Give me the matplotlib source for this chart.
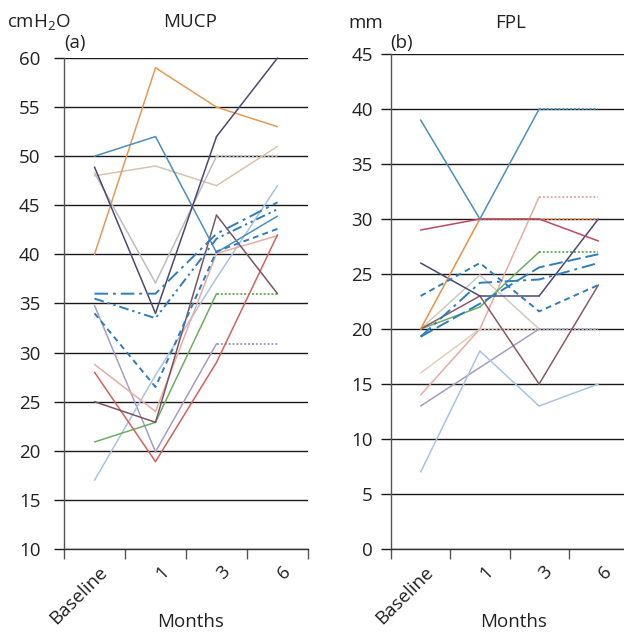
import matplotlib
matplotlib.use('Agg')
import matplotlib.pyplot as plt
import matplotlib.transforms as mtransforms

plt.rcParams['font.family'] = ['Open Sans', 'DejaVu Sans']
plt.rcParams['mathtext.default'] = 'regular'

timepoints = ['Baseline', '1', '3', '6']

# ---- Panel (a) MUCP (cmH2O) ----
mucp_orange = [40, 59, 55, 53]
mucp_steel = [50, 52, 40.2, 43.9]
mucp_navy = [48.9, 34, 52, 60]
mucp_beige = [48, 49, 47, 51]
mucp_grey = [48.3, 37.1, 50, 50]
mucp_mauve = [25, 22.9, 44, 36]
mucp_green = [20.9, 22.9, 36, 36]
mucp_red = [28, 18.9, 29, 42]
mucp_lightblue = [17, 27.7, 37.6, 47]
mucp_pink = [28.8, 24, 40.1, 41.9]
mucp_lavender = [34.8, 19.9, 30.9, 30.9]
mucp_blue_dashdot = [36, 36, 42.1, 45.3]
mucp_blue_dashdotdot = [35.5, 33.5, 41.6, 44.6]
mucp_blue_dashed = [34, 26.5, 40.3, 42.6]

# ---- Panel (b) FPL (mm) ----
fpl_steel = [39, 30, 40, 40]
fpl_maroon = [29, 30, 30, 28]
fpl_orange = [20, 30, 30, 30]
fpl_pink = [14, 20, 32, 32]
fpl_navy = [26, 23, 23, 30]
fpl_mauve = [20, 23, 15, 24]
fpl_green = [20, 22, 27, 27]
fpl_grey = [20, 24.9, 20, 20]
fpl_beige = [16, 20, 20, 20]
fpl_lavender = [13, 16.5, 20, 20]
fpl_lightblue = [7, 18, 13, 15]
fpl_blue_dashed = [23, 26, 21.6, 24]
fpl_blue_longdash = [19.3, 22.3, 25.6, 26.8]
fpl_blue_dashdot = [19.3, 24.2, 24.5, 26]

BLUE = '#2F7DBD'
LONGDASH = (0, (7, 2.5))
DASHDOT = (0, (7, 2.5, 1.5, 2.5))
DASHDOTDOT = (0, (5, 2, 1.2, 2, 1.2, 2))
SHORTDASH = (0, (3, 2.2))

series_a = [
    (mucp_beige, '#D9C3AE', '-'),
    (mucp_grey, '#BDBDBD', '-'),
    (mucp_lavender, '#A59DC2', '-'),
    (mucp_lightblue, '#A9C3E3', '-'),
    (mucp_pink, '#E8ACA3', '-'),
    (mucp_green, '#6BAE5E', '-'),
    (mucp_red, '#D9605A', '-'),
    (mucp_mauve, '#7B5565', '-'),
    (mucp_orange, '#E89A55', '-'),
    (mucp_steel, '#4A90BE', '-'),
    (mucp_navy, '#4B4874', '-'),
    (mucp_blue_dashdot, BLUE, DASHDOT),
    (mucp_blue_dashdotdot, BLUE, DASHDOTDOT),
    (mucp_blue_dashed, BLUE, SHORTDASH),
]

series_b = [
    (fpl_beige, '#E3CDB8', '-'),
    (fpl_grey, '#C9CDBF', '-'),
    (fpl_lavender, '#A59DC2', '-'),
    (fpl_lightblue, '#A9C3E3', '-'),
    (fpl_pink, '#E8ACA3', '-'),
    (fpl_green, '#6BAE5E', '-'),
    (fpl_mauve, '#8A5A62', '-'),
    (fpl_navy, '#4B4874', '-'),
    (fpl_orange, '#EC8F45', '-'),
    (fpl_maroon, '#C0485E', '-'),
    (fpl_steel, '#4A90BE', '-'),
    (fpl_blue_dashed, BLUE, SHORTDASH),
    (fpl_blue_longdash, BLUE, LONGDASH),
    (fpl_blue_dashdot, BLUE, DASHDOT),
]

fig = plt.figure(figsize=(6.24, 6.34), dpi=100)
axa = fig.add_axes([64 / 624, 1 - 549 / 634, 244 / 624, 491 / 634])
axb = fig.add_axes([391 / 624, 1 - 549 / 634, 237 / 624, 495 / 634])


def draw(ax, series):
    xs = list(range(len(timepoints)))
    for vals, color, ls in series:
        if ls == '-':
            # trailing flat run (carried-forward values) drawn dotted
            start = len(vals) - 1
            while start > 0 and vals[start - 1] == vals[-1]:
                start -= 1
            for i in range(len(vals) - 1):
                carried = i >= start
                ax.plot(xs[i:i + 2], vals[i:i + 2], color=color,
                        lw=1.4 if carried else 1.1,
                        ls=(0, (1, 1)) if carried else '-',
                        clip_on=False, zorder=3,
                        solid_capstyle='round')
        else:
            ax.plot(xs, vals, color=color, lw=1.4, ls=ls, clip_on=False,
                    zorder=4)


def style(ax, ylim, step, ypad):
    ax.set_xlim(-0.5, 3.5)
    ax.set_ylim(*ylim)
    ax.set_yticks(range(ylim[0], ylim[1] + 1, step))
    ax.yaxis.grid(True, color='#1a1a1a', lw=1.0, zorder=1)
    ax.set_axisbelow(True)
    ax.tick_params(axis='y', length=7, width=1.0, color='#1a1a1a',
                   labelsize=13.5, pad=ypad, labelcolor='#222222')
    ax.set_xticks(range(len(timepoints)))
    ax.set_xticklabels(timepoints, rotation=45, ha='right',
                       rotation_mode='anchor', fontsize=13.5,
                       color='#222222')
    ax.set_xticks([-0.5, 0.5, 1.5, 2.5, 3.5], minor=True)
    ax.tick_params(axis='x', which='major', length=0, pad=10)
    ax.tick_params(axis='x', which='minor', length=7, width=1.0,
                   color='#555555')
    off = mtransforms.ScaledTranslation(4 / 100, 0, fig.dpi_scale_trans)
    for lab in ax.get_xticklabels():
        lab.set_transform(lab.get_transform() + off)
    for s in ('top', 'right'):
        ax.spines[s].set_visible(False)
    ax.spines['left'].set_color('#555555')
    ax.spines['left'].set_linewidth(1.0)
    ax.spines['bottom'].set_color('#333333')
    ax.spines['bottom'].set_linewidth(1.0)
    ax.patch.set_alpha(0)


draw(axa, series_a)
draw(axb, series_b)
style(axa, (10, 60), 5, 10)
style(axb, (0, 45), 5, 6)

kw = dict(fontsize=13.5, va='center', color='#222222')
fig.text(7 / 624, 1 - 22 / 634, 'cmH$_2$O', ha='left', **kw)
fig.text(190 / 624, 1 - 22 / 634, 'MUCP', ha='center', **kw)
fig.text(64 / 624, 1 - 43 / 634, '(a)', ha='left', **kw)
fig.text(348 / 624, 1 - 23 / 634, 'mm', ha='left', **kw)
fig.text(511 / 624, 1 - 23 / 634, 'FPL', ha='center', **kw)
fig.text(390 / 624, 1 - 43 / 634, '(b)', ha='left', **kw)
fig.text(191 / 624, 1 - 622 / 634, 'Months', ha='center', **kw)
fig.text(514 / 624, 1 - 622 / 634, 'Months', ha='center', **kw)

fig.savefig('out.png', dpi=100, facecolor='white')
